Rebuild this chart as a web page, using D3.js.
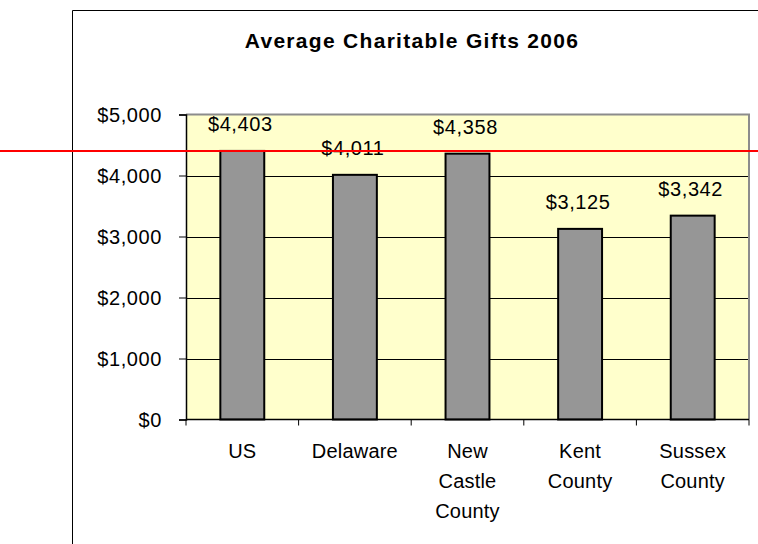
<!DOCTYPE html>
<html>
<head>
<meta charset="utf-8">
<script src="https://cdn.jsdelivr.net/npm/d3@7"></script>
<style>
  body { margin: 0; background: #fff; }
  svg text { font-family: "Liberation Sans", Arial, sans-serif; fill: #000; }
</style>
</head>
<body>
<div id="chart"></div>
<script>
// chart data
const categories = ["US", "Delaware", "New Castle County", "Kent County", "Sussex County"];
const catLines = [["US"], ["Delaware"], ["New", "Castle", "County"], ["Kent", "County"], ["Sussex", "County"]];
const gifts = [4403, 4011, 4358, 3125, 3342];
const yTicks = [0, 1000, 2000, 3000, 4000, 5000];
const title = "Average Charitable Gifts 2006";
const refValue = gifts[0]; // red line at the US average

const width = 758, height = 544;
const plot = { left: 186, right: 749, top: 114.5, bottom: 419.5 };

const svg = d3.select("#chart").append("svg")
  .attr("width", width)
  .attr("height", height);

// outer chart frame (runs off the page on the right / bottom)
svg.append("path")
  .attr("d", `M72.5,${height + 5} V10.5 H${width + 5}`)
  .attr("fill", "none")
  .attr("stroke", "#000")
  .attr("stroke-width", 1);

// scales
const x = d3.scaleBand()
  .domain(categories)
  .range([plot.left, plot.right])
  .paddingInner(0)
  .paddingOuter(0);

const y = d3.scaleLinear()
  .domain([0, 5000])
  .range([plot.bottom, plot.top]);

const barW = x.bandwidth() * 0.39;

// plot background
svg.append("rect")
  .attr("x", plot.left)
  .attr("y", plot.top)
  .attr("width", plot.right - plot.left)
  .attr("height", plot.bottom - plot.top)
  .attr("fill", "#ffffcc");

// gridlines
svg.append("g")
  .selectAll("line")
  .data(yTicks.filter(d => d > 0 && d < 5000))
  .join("line")
  .attr("x1", plot.left)
  .attr("x2", plot.right)
  .attr("y1", d => Math.round(y(d)) + 0.5)
  .attr("y2", d => Math.round(y(d)) + 0.5)
  .attr("stroke", "#000")
  .attr("stroke-width", 1);

// grey plot border top and right
svg.append("path")
  .attr("d", `M${plot.left},${plot.top} H${plot.right} V${plot.bottom}`)
  .attr("fill", "none")
  .attr("stroke", "#8c8c8c")
  .attr("stroke-width", 2);

// bars
svg.append("g")
  .selectAll("rect")
  .data(gifts)
  .join("rect")
  .attr("x", (d, i) => x(categories[i]) + (x.bandwidth() - barW) / 2)
  .attr("y", d => y(d))
  .attr("width", barW)
  .attr("height", d => y(0) - y(d))
  .attr("fill", "#969696")
  .attr("stroke", "#000")
  .attr("stroke-width", 2);

// y axis
const yAxis = svg.append("g")
  .attr("transform", `translate(${plot.left},0)`)
  .call(d3.axisLeft(y)
    .tickValues(yTicks)
    .tickSize(7)
    .tickPadding(17)
    .tickFormat(d => "$" + d3.format(",")(d)));
yAxis.select(".domain").attr("stroke", "#000").attr("stroke-width", 1.5);
yAxis.selectAll(".tick line").attr("stroke", "#000");
yAxis.selectAll(".tick text")
  .attr("font-size", 20)
  .attr("letter-spacing", "0.6px")
  .attr("dy", "0.36em");

// x axis, ticks on band edges
const xAxis = svg.append("g")
  .attr("transform", `translate(0,${plot.bottom})`);
xAxis.append("line")
  .attr("x1", plot.left)
  .attr("x2", plot.right)
  .attr("stroke", "#000")
  .attr("stroke-width", 1.5);
xAxis.selectAll(".edge")
  .data(categories.map(c => x(c)).concat([plot.right]))
  .join("line")
  .attr("class", "edge")
  .attr("x1", d => d)
  .attr("x2", d => d)
  .attr("y1", 0)
  .attr("y2", 6)
  .attr("stroke", "#000");

// category labels
const catText = xAxis.selectAll(".cat")
  .data(categories)
  .join("text")
  .attr("class", "cat")
  .attr("text-anchor", "middle")
  .attr("font-size", 20)
  .attr("letter-spacing", "0.2px");
catText.selectAll("tspan")
  .data((d, i) => catLines[i].map(t => ({ t, c: d })))
  .join("tspan")
  .attr("x", d => x(d.c) + x.bandwidth() / 2)
  .attr("y", (d, i) => 38.5 + i * 30)
  .text(d => d.t);

// value labels
svg.append("g")
  .selectAll("text")
  .data(gifts)
  .join("text")
  .attr("x", (d, i) => x(categories[i]) + x.bandwidth() / 2 - 2)
  .attr("y", d => y(d) - 20)
  .attr("text-anchor", "middle")
  .attr("font-size", 20)
  .attr("letter-spacing", "0.6px")
  .text(d => "$" + d3.format(",")(d));

// reference line
svg.append("line")
  .attr("x1", 0)
  .attr("x2", width)
  .attr("y1", y(refValue))
  .attr("y2", y(refValue))
  .attr("stroke", "#ff0000")
  .attr("stroke-width", 2);

// title
svg.append("text")
  .attr("x", 412)
  .attr("y", 48)
  .attr("text-anchor", "middle")
  .attr("font-size", 21)
  .attr("font-weight", "bold")
  .attr("letter-spacing", "1.3px")
  .text(title);
</script>
</body>
</html>
